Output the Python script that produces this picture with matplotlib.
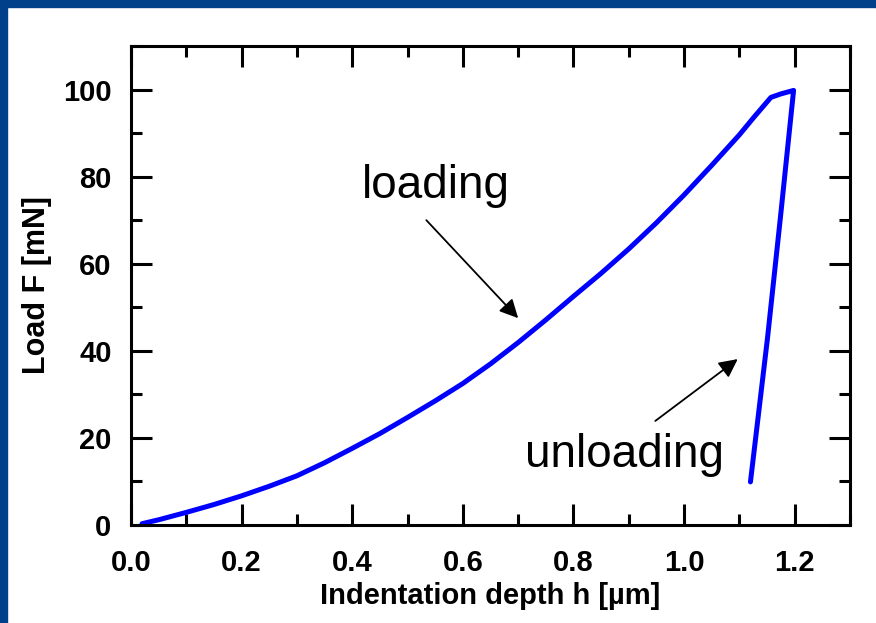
import matplotlib.pyplot as plt
from matplotlib.patches import Rectangle
from matplotlib.ticker import MultipleLocator

# indentation curve: loading branch then unloading branch
depth_loading = [0.02, 0.05, 0.1, 0.15, 0.2, 0.25, 0.3, 0.35, 0.4, 0.45, 0.5, 0.55, 0.6,
                 0.65, 0.7, 0.75, 0.8, 0.85, 0.9, 0.95, 1.0, 1.05, 1.1, 1.126, 1.157,
                 1.175, 1.198]
load_loading = [0.3, 1.2, 2.9, 4.7, 6.7, 8.9, 11.3, 14.3, 17.6, 21.0, 24.7, 28.5, 32.5,
                37.0, 41.9, 47.1, 52.5, 57.8, 63.4, 69.4, 75.8, 82.6, 89.6, 93.6, 98.2,
                99.0, 99.8]
depth_unloading = [1.198, 1.175, 1.151, 1.12]
load_unloading = [99.8, 71.6, 43.1, 9.9]

plt.rcParams['font.family'] = ['Liberation Sans', 'DejaVu Sans']

fig = plt.figure(figsize=(8.76, 6.23), dpi=100)
# dark blue slide border along top and left
frame_color = '#00408A'
fig.patches.append(Rectangle((0, 1 - 7 / 623), 1, 7 / 623, transform=fig.transFigure,
                             color=frame_color, zorder=0))
fig.patches.append(Rectangle((0, 0), 7 / 876, 1, transform=fig.transFigure,
                             color=frame_color, zorder=0))

ax = fig.add_axes([131 / 876, 98 / 623, 719 / 876, 479 / 623])

h = depth_loading + depth_unloading[1:]
F = load_loading + load_unloading[1:]
ax.plot(h, F, color='#0000FF', lw=3.6, solid_joinstyle='round', solid_capstyle='round')

ax.set_xlim(0, 1.3)
ax.set_ylim(0, 110)
ax.xaxis.set_major_locator(MultipleLocator(0.2))
ax.xaxis.set_minor_locator(MultipleLocator(0.1))
ax.yaxis.set_major_locator(MultipleLocator(20))
ax.yaxis.set_minor_locator(MultipleLocator(10))
ax.xaxis.set_major_formatter(plt.FuncFormatter(lambda v, p: f'{v:.1f}'))

for s in ax.spines.values():
    s.set_linewidth(2.2)
ax.tick_params(which='both', direction='in', top=True, right=True, width=2.2)
ax.tick_params(which='major', length=15)
ax.tick_params(which='minor', length=8)
ax.tick_params(axis='x', which='major', pad=17)
ax.tick_params(axis='y', which='major', pad=14)
for lab in ax.get_xticklabels() + ax.get_yticklabels():
    lab.set_fontsize(21)
    lab.set_fontweight('bold')

ax.set_xlabel('Indentation depth h [µm]', fontsize=21, fontweight='bold', labelpad=4)
ax.set_ylabel('Load F [mN]', fontsize=22, fontweight='bold', labelpad=8)

arrow = dict(arrowstyle='-|>', color='black', lw=1.3, mutation_scale=28, shrinkA=0, shrinkB=0)
ax.annotate('', xy=(0.700, 47.5), xytext=(0.534, 70.0), arrowprops=arrow)
ax.annotate('', xy=(1.097, 38.1), xytext=(0.948, 23.9), arrowprops=arrow)
ax.text(0.552, 75.2, 'loading', fontsize=33, ha='center', va='baseline')
ax.text(0.892, 13.3, 'unloading', fontsize=33, ha='center', va='baseline')

fig.savefig('out.png', dpi=100)
